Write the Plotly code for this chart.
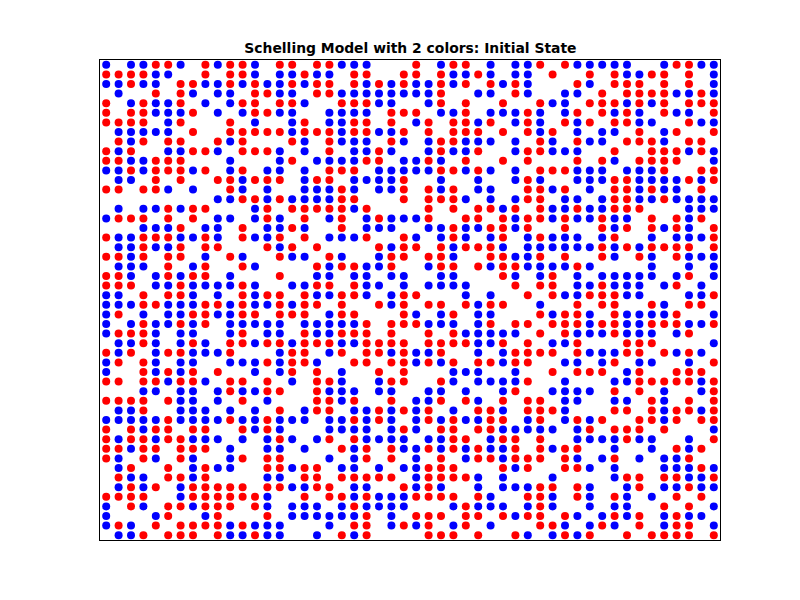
import plotly.graph_objects as go

# Grid rows, top to bottom: R = red agent, B = blue agent, . = empty
left_half = [
"B.BBRRB.RBRRB.RR.RRBBB...",
"RRRRBB..R.RRB.BBRBB.RR..R",
"BBRBB.RRBBRBRBBRBRR.RBRBR",
".B..R.RB.BB.RRBB.RRBBBBBB",
"R.BRBBR.B.BRR.RRB..RRRBB.",
"R.RRBBBR.B.BRRBB..BBBB.RR",
"RRRR.BR...R.B..BR.BBRR.R.",
".BBBBB.R..RRRRRBRRRBRRBBR",
".RBR.RR..RBR...RB.RBBB.RB",
"RBR..BBRRB.RRRB.B.R.BBRB.",
"RRBBRRR...B...BR.BBBBRR.B",
"BBRBRRRBR.BR.BB.B.RRR.BBB",
".BB.R.R..RRBRRR.BRR.BBBBR",
"RR.RRB.B..RB.B..BBBRB.BBR",
".........BBRRBRBBBBRR...R",
".B.BBRBRR...BR.RRRRRBR...",
"BRRR.R.R.BB.BRB.R.BR.BRBB",
"...BBBR.BB.R.BBRB..R.BBB.",
"RBBRRRBBRB.RBBR.R.BBBR..R",
".BBRBBR.RR...RBR.R....RBR",
"RRBR.RR.B.RB..RBB.RB..BRR",
".BBB.R.BR..RB....RBRRBBR.",
"RRB.BRBRR.B...R..BB.BB.BB",
"RRR.BBRBBBBRB..BBRR.RBB.B",
"BB.R.RRB.B.RBRR.RBBRRB.BR",
"BBBRRBBBRRBRBBRBRR.R..RBR",
"BR.B.BBRRBBRR.RRR.BRR...R",
"B.BRBBRBR.BBBBB.BBBBBR.RR",
"BRRRB.BB..BR.BB.RBBRRR.R.",
".BBRB.BRB.RRBRRBRRRBBRRRR",
"RBR.BRRBBBR...BRR.BR.RRBR",
"BR.RB.BB..BBBRBRRB..RR.RR",
"B..RBRBR.R..B.BR.R.B..R.R",
"RR.RRBRRB.RR.R.B.RRB..BRR",
"...BB.BB.BRBBRR..RBBB.BB.",
"RRRR.RBB.B.R.B...RRBR..R.",
".BBR..BBB.B.B.R.BRR.BBRBR",
"BBBBBRBBBBRBBRBBB.BBRBRB.",
"R.RBRR.RR..RBRB...BBBB.BR",
"RBRRBRRBBB.B.BRB.BR.RBBBB",
"RRBRR.RRR.B..BB.B..RBR.RB",
"RB.RB.RB..BR.RR...B.BR.R.",
".BR..R.BRBB..RRBRR.BB.B.B",
".RBB.RRBR....BB.RR.RRRRR.",
".BRBR.BRRRRR.RRBBRR.BB..R",
"RRRR..BRRRRRRB..R.RRBRBBB",
"B.RB.RRBRRR.RB.BBB.BRBBBB",
"B...BR..BR...R.BBBBBBR.B.",
"BRB.R.RRRRBRBBB...B.RR.BR",
".BBR.RRR.RBBRBB..B.RBR...",
]
right_half = [
"R.BRR.B.BBR.RBBBBB..BRRBB",
"R.RBBRB.BB.R..R.RBBRR.R.B",
"BBRBR.RBRB...RB.RRR.R.R.B",
"BBR..BB.RB..BB.R.RRRRBBRB",
".BR.R..R..RBB.RRRBRBR.RRR",
"R.BBR.BBBRB.BR.RBRB.RBB.R",
"BR.RRBR.BRB.RBR.RRBB..RBB",
".R.RRR.R.RBR.B.BB.R.BR..R",
".BRRBBB.B.RB.RBB.RRRB.RR.",
".BRBBR..BRRBBB..R..RRRBRB",
"BRB.R..R.R...R.RB.RRRR..B",
"BBRRBRB.B.RRRBBB.BBBR..RR",
"..B..B..BRB..BBBRRBBBBRBR",
".RBR.BB..RRBR.B.RRBRBB.R.",
".RRRB.B.BRR.BB.BRRBBRBBBB",
".R.R.RRBR.RBBRBBRRR...BBB",
"BR..RR.RBRRBRBBRBB.R.RBR.",
".BBRBBRRBR..R..RBR.RBRB.R",
"B.BRB.BR.BRBBB.BR..B.BBBR",
"R.RBRRRB.BBBBBBRBRBRRRR.R",
".RRB..RRBBR.R..RB.RB.RBBB",
".BRR.RBRRBBBBRB....B..B.B",
"..BB...RB.BR.B.BBBBB.BR.B",
".BBBB...R.RR.BBRBBB.BR.B.",
"R...B.B..R.RBBRRRBB...BBR",
".RR.RBRR..B..R.RR..RB.RR.",
"B.BR.BB...RBRRB.RBBBBR..B",
"RBBB.BR.RR.RRRBRRBBRRRBBR",
".R.RBBBBB.R.RBBBRBBB.BR..",
".RRRRBBR.R.BBR...RRR....B",
"BBR..B.BRRRR.RBBBRR.RBRB.",
"BRBR.RRBRR..BB.BR.BB..B.R",
"...BBB..B..R.RRR.BR..RRR.",
"..RB.BBBBR..B...BBRRRRRBR",
".BB.B..BR..BBBB.R.R.B..BR",
"BBR.RB.R.RR.BB..BB.RB.R.R",
"BR.B.RRB.RRRB...RR.RBRRBR",
"BRBRBBRR.BR.BRBR..RRBR.RR",
"B.RR.RRBBBBB.BR.RRR.R...B",
".BBRR.BRR.R..BBBBRBB..B.R",
"BRBRBRBBR.RBRR..B..B.RBR.",
"B.R.BRRBRRR.RB.BR.B.BBR..",
"BRRR...RBR..RRB.B...BBBRB",
"BRRRRB.B...B....BRR.RRBBR",
"BRB..B.BBBRR.RB..BR.BBRBB",
"RRRR.RB..RRB.RB.RB.B.R.R.",
"...BRBBB.BRB..B.BB..R.R.B",
"RRR.RR.RBRR.RB.BRBR.BRBB.",
"BR.BR.B...RRB.BRB.R.BRR.B",
".RRR.R..RB.BRBR..R.RRRR.R",
]
title_text = "Schelling Model with 2 colors: Initial State"

rows = [a + b for a, b in zip(left_half, right_half)]


def cells(code):
    xs, ys = [], []
    for r, row in enumerate(rows):
        for c, ch in enumerate(row):
            if ch == code:
                xs.append(c)
                ys.append(r)
    return xs, ys


fig = go.Figure()
for code, colour in (("B", "#0000ff"), ("R", "#ff0000")):
    xs, ys = cells(code)
    fig.add_trace(go.Scatter(x=xs, y=ys, mode="markers",
                             marker=dict(color=colour, size=8, line=dict(width=0)),
                             showlegend=False, hoverinfo="skip"))

axis = dict(showgrid=False, zeroline=False, showticklabels=False, ticks="",
            showline=True, linecolor="black", linewidth=1, mirror=True)
fig.update_layout(
    width=800, height=600, autosize=False,
    margin=dict(l=92, r=88, t=52, b=68),
    paper_bgcolor="white", plot_bgcolor="white",
    title=dict(text="<b>" + title_text + "</b>", x=0.503, xanchor="center",
               y=0.933, yanchor="middle",
               font=dict(family="DejaVu Sans", size=13.9, color="black")),
    xaxis=dict(range=[-0.5, 49.5], **axis),
    yaxis=dict(range=[49.5, -0.5], **axis),
)
fig.write_html("out.html")
